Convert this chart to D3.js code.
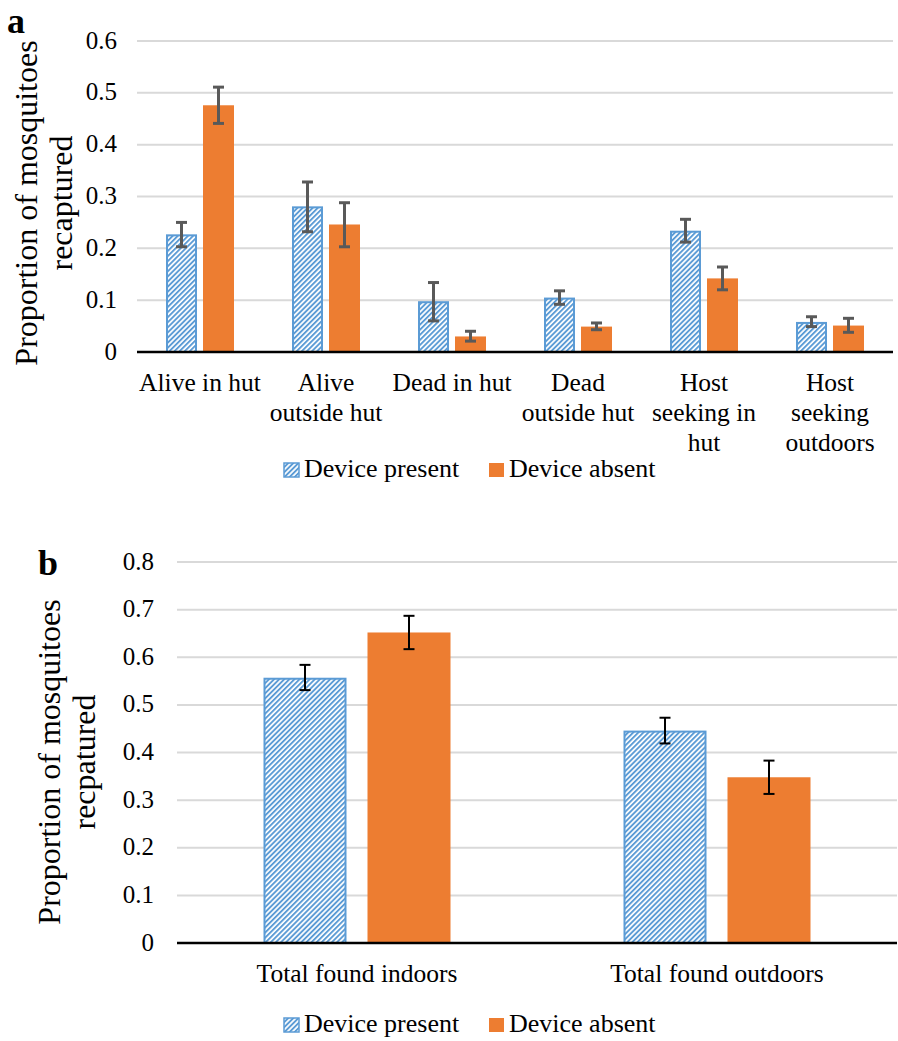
<!DOCTYPE html>
<html lang="en">
<head>
<meta charset="UTF-8">
<title>Mosquito recapture proportions</title>
<script src="https://d3js.org/d3.v7.min.js"></script>
<style>
  body { margin: 0; background: #fff; }
  svg { display: block; font-family: "Liberation Serif", "Times New Roman", serif; }
</style>
</head>
<body>
<svg id="chart" width="898" height="1041"></svg>
<script>
// Panel a data
const catsA = [
  ["Alive in hut"],
  ["Alive", "outside hut"],
  ["Dead in hut"],
  ["Dead", "outside hut"],
  ["Host", "seeking in", "hut"],
  ["Host", "seeking", "outdoors"]
];
const presentA = [0.227, 0.281, 0.098, 0.105, 0.234, 0.058];
const presentLoA = [0.203, 0.232, 0.060, 0.092, 0.212, 0.049];
const presentHiA = [0.250, 0.328, 0.134, 0.118, 0.256, 0.068];
const absentA = [0.476, 0.246, 0.030, 0.049, 0.142, 0.051];
const absentLoA = [0.441, 0.203, 0.021, 0.043, 0.120, 0.038];
const absentHiA = [0.511, 0.288, 0.040, 0.056, 0.164, 0.065];
const ticksA = [0, 0.1, 0.2, 0.3, 0.4, 0.5, 0.6];

// Panel b data
const catsB = [["Total found indoors"], ["Total found outdoors"]];
const presentB = [0.557, 0.446];
const presentLoB = [0.531, 0.419];
const presentHiB = [0.584, 0.473];
const absentB = [0.652, 0.348];
const absentLoB = [0.617, 0.313];
const absentHiB = [0.687, 0.383];
const ticksB = [0, 0.1, 0.2, 0.3, 0.4, 0.5, 0.6, 0.7, 0.8];

const seriesNames = ["Device present", "Device absent"];
const blue = "#5b9bd5", orange = "#ed7d31";

const svg = d3.select("#chart");

// hatch pattern for "Device present"
const defs = svg.append("defs");
const pat = defs.append("pattern")
    .attr("id", "hatch")
    .attr("patternUnits", "userSpaceOnUse")
    .attr("width", 3.6).attr("height", 3.6)
    .attr("patternTransform", "rotate(45)");
pat.append("rect").attr("width", 3.6).attr("height", 3.6).attr("fill", "#fff");
pat.append("rect").attr("x", 0).attr("width", 1.9).attr("height", 3.6).attr("fill", blue);

function panel(opts) {
  const g = svg.append("g");
  const x = d3.scaleBand().domain(d3.range(opts.cats.length))
      .range([opts.left, opts.right]);
  const y = d3.scaleLinear().domain([0, opts.max]).range([opts.bottom, opts.top]);

  // gridlines
  g.selectAll(".grid").data(opts.ticks.filter(t => t > 0)).enter().append("line")
      .attr("x1", opts.left).attr("x2", opts.right)
      .attr("y1", d => y(d)).attr("y2", d => y(d))
      .attr("stroke", "#d9d9d9").attr("stroke-width", 2);

  // tick labels
  g.selectAll(".tick").data(opts.ticks).enter().append("text")
      .attr("x", opts.tickX).attr("y", d => y(d))
      .attr("dy", "0.3em").attr("text-anchor", "end")
      .attr("font-size", 25).attr("fill", "#000")
      .text(d => d === 0 ? "0" : d.toFixed(1));

  const bw = opts.barW, gap = opts.gap;
  const series = [
    { vals: opts.present, lo: opts.presentLo, hi: opts.presentHi, off: -gap / 2 - bw, fill: "url(#hatch)", stroke: blue },
    { vals: opts.absent, lo: opts.absentLo, hi: opts.absentHi, off: gap / 2, fill: orange, stroke: "none" }
  ];
  series.forEach(s => {
    const outlined = s.stroke !== "none";
    g.selectAll(null).data(s.vals).enter().append("rect")
        .attr("x", (d, i) => x(i) + x.bandwidth() / 2 + s.off + (outlined ? 1 : 0))
        .attr("y", d => y(d) + (outlined ? 1 : 0))
        .attr("width", outlined ? bw - 2 : bw)
        .attr("height", d => y(0) - y(d) - (outlined ? 1 : 0))
        .attr("fill", s.fill)
        .attr("stroke", s.stroke).attr("stroke-width", 2);
  });

  // axis line
  g.append("line").attr("x1", opts.left).attr("x2", opts.right)
      .attr("y1", y(0)).attr("y2", y(0))
      .attr("stroke", "#000").attr("stroke-width", 2.5);

  // error bars
  series.forEach(s => {
    s.vals.forEach((v, i) => {
      const cx = x(i) + x.bandwidth() / 2 + s.off + bw / 2;
      const eb = g.append("g").attr("stroke", opts.errColor).attr("stroke-width", opts.errW);
      eb.append("line").attr("x1", cx).attr("x2", cx).attr("y1", y(s.lo[i])).attr("y2", y(s.hi[i]));
      [s.lo[i], s.hi[i]].forEach(e => {
        eb.append("line").attr("x1", cx - 5.5).attr("x2", cx + 5.5).attr("y1", y(e)).attr("y2", y(e));
      });
    });
  });

  // category labels
  opts.cats.forEach((lines, i) => {
    const t = g.append("text")
        .attr("x", x(i) + x.bandwidth() / 2)
        .attr("y", opts.catY)
        .attr("text-anchor", "middle").attr("font-size", 25.5).attr("fill", "#000");
    lines.forEach((l, j) => t.append("tspan")
        .attr("x", x(i) + x.bandwidth() / 2).attr("dy", j === 0 ? 0 : 30).text(l));
  });

  // y axis title
  const title = g.append("text")
      .attr("transform", `translate(${opts.titleX},${opts.titleY}) rotate(-90)`)
      .attr("text-anchor", "middle").attr("font-size", 32).attr("fill", "#000");
  opts.title.forEach((l, j) => title.append("tspan").attr("x", 0).attr("dy", j === 0 ? 0 : 35).text(l));

  // panel letter
  g.append("text").attr("x", opts.letterX).attr("y", opts.letterY)
      .attr("font-size", 36).attr("font-weight", "bold").text(opts.letter);

  // legend
  const lg = g.append("g").attr("transform", `translate(0,${opts.legendY})`);
  lg.append("rect").attr("x", 284).attr("y", -7).attr("width", 15).attr("height", 14)
      .attr("fill", "url(#hatch)").attr("stroke", blue).attr("stroke-width", 1.5);
  lg.append("text").attr("x", 304).attr("y", 7)
      .attr("font-size", 26).text(seriesNames[0]);
  lg.append("rect").attr("x", 489).attr("y", -7).attr("width", 15).attr("height", 14)
      .attr("fill", orange);
  lg.append("text").attr("x", 509).attr("y", 7)
      .attr("font-size", 26).text(seriesNames[1]);
}

panel({
  cats: catsA, present: presentA, presentLo: presentLoA, presentHi: presentHiA,
  absent: absentA, absentLo: absentLoA, absentHi: absentHiA,
  ticks: ticksA, max: 0.6,
  left: 137, right: 893, top: 41, bottom: 352,
  tickX: 117, barW: 31, gap: 6,
  errColor: "#595959", errW: 3,
  catY: 391, title: ["Proportion of mosquitoes", "recaptured"], titleX: 37, titleY: 203,
  letter: "a", letterX: 7, letterY: 33, legendY: 470
});

panel({
  cats: catsB, present: presentB, presentLo: presentLoB, presentHi: presentHiB,
  absent: absentB, absentLo: absentLoB, absentHi: absentHiB,
  ticks: ticksB, max: 0.8,
  left: 177, right: 897, top: 562, bottom: 943,
  tickX: 154, barW: 83, gap: 21,
  errColor: "#000", errW: 2,
  catY: 982, title: ["Proportion of mosquitoes", "recpatured"], titleX: 60, titleY: 762,
  letter: "b", letterX: 38, letterY: 575, legendY: 1025
});
</script>
</body>
</html>
